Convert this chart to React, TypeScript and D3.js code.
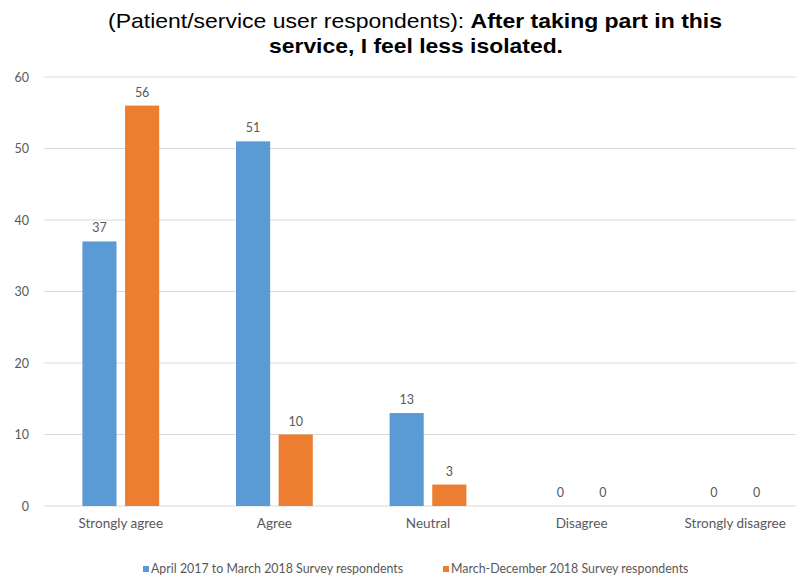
import React from "react";
import * as d3 from "d3";

const categories = ["Strongly agree", "Agree", "Neutral", "Disagree", "Strongly disagree"];
const seriesNames = [
  "April 2017 to March 2018 Survey respondents",
  "March-December 2018 Survey respondents",
];
const series1 = [37, 51, 13, 0, 0];
const series2 = [56, 10, 3, 0, 0];
const yTicks = [0, 10, 20, 30, 40, 50, 60];
const colors = ["#5B9BD5", "#ED7D31"];

const W = 796;
const H = 577;

export default function App() {
  const x0 = d3.scaleBand<string>().domain(categories).range([44, 812]).paddingInner(0).paddingOuter(0);
  const y = d3.scaleLinear().domain([0, 60]).range([506, 77]);
  const groupW = x0.bandwidth() * 0.5;
  const x1 = d3.scaleBand<number>().domain([0, 1]).range([0, groupW]).paddingInner(0.2);
  const data = [series1, series2];
  const axisFont = "Lato, 'Open Sans', sans-serif";
  const txt = "#595959";
  const titleFont = "'Liberation Sans', Arial, sans-serif";

  return (
    <svg width={W} height={H} style={{ position: "absolute", left: 0, top: 0, background: "#fff" }}>
      <rect width={W} height={H} fill="#fff" />
      <text x={108} y={28} textLength={614} lengthAdjust="spacingAndGlyphs" fontFamily={titleFont} fontSize={21} fill="#000">
        <tspan>(Patient/service user respondents): </tspan>
        <tspan fontWeight="bold">After taking part in this</tspan>
      </text>
      <text x={269} y={53} textLength={294} lengthAdjust="spacingAndGlyphs" fontFamily={titleFont} fontSize={21} fontWeight="bold" fill="#000">
        service, I feel less isolated.
      </text>
      {yTicks.map((t) => (
        <g key={t}>
          <line x1={44} x2={W} y1={y(t)} y2={y(t)} stroke="#D9D9D9" strokeWidth={1} />
          <text x={29} y={y(t) + 4.5} textAnchor="end" fontFamily={axisFont} fontSize={12.5} fill={txt}>
            {t}
          </text>
        </g>
      ))}
      {categories.map((c, i) => {
        const gx = (x0(c) as number) + (x0.bandwidth() - groupW) / 2;
        return (
          <g key={c}>
            {data.map((s, k) => {
              const bx = gx + (x1(k) as number);
              const bw = x1.bandwidth();
              return (
                <g key={k}>
                  {s[i] > 0 && (
                    <rect x={bx} y={y(s[i])} width={bw} height={y(0) - y(s[i])} fill={colors[k]} />
                  )}
                  <text x={bx + bw / 2} y={y(s[i]) - 9} textAnchor="middle" fontFamily={axisFont} fontSize={12.5} fill={txt}>
                    {s[i]}
                  </text>
                </g>
              );
            })}
            <text x={(x0(c) as number) + x0.bandwidth() / 2} y={528} textAnchor="middle" fontFamily={axisFont} fontSize={13.5} fill={txt}>
              {c}
            </text>
          </g>
        );
      })}
      {seriesNames.map((n, k) => {
        const lx = k === 0 ? 143 : 443;
        return (
          <g key={n}>
            <rect x={lx} y={566} width={6} height={6} fill={colors[k]} />
            <text x={lx + 8} y={573} fontFamily={axisFont} fontSize={12.4} fill={txt}>
              {n}
            </text>
          </g>
        );
      })}
    </svg>
  );
}
